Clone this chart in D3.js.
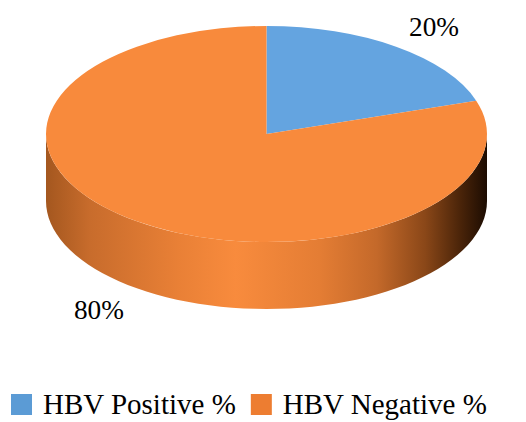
<!DOCTYPE html>
<html>
<head>
<meta charset="utf-8">
<script src="https://cdn.jsdelivr.net/npm/d3@7"></script>
<style>
  body { margin: 0; background: #fff; }
</style>
</head>
<body>
<script>
var categories = ["HBV Positive %", "HBV Negative %"];
var values = [20, 80];
var labels = ["20%", "80%"];
var topColors = ["#64a4e0", "#f88a3c"];
var legendColors = ["#5b9bd5", "#ed7d31"];

var w = 526,
    h = 422;

var cx = 266.5, cy = 134,
    rx = 220.5, ry = 108,
    depth = 67;

var font = "'Liberation Serif', 'Times New Roman', Times, 'DejaVu Serif', serif";

var svg = d3.select("body").append("svg")
    .attr("width", w)
    .attr("height", h);

var defs = svg.append("defs");
var grad = defs.append("linearGradient")
    .attr("id", "sideGrad")
    .attr("gradientUnits", "userSpaceOnUse")
    .attr("x1", cx - rx).attr("x2", cx + rx)
    .attr("y1", 0).attr("y2", 0);
[[0, "#a4571f"], [0.1, "#c86c2c"], [0.3, "#e98036"], [0.43, "#f88b3d"],
 [0.62, "#e47d34"], [0.75, "#c4692a"], [0.86, "#8a4718"], [0.94, "#4a2409"], [1, "#1c0c02"]]
    .forEach(function(s) {
        grad.append("stop").attr("offset", s[0]).attr("stop-color", s[1]);
    });

var pie = d3.pie().sort(null).value(function(d) { return d; });
var arcs = pie(values);

// point on ellipse, d3 angle convention (0 = 12 o'clock, clockwise)
function pt(a, dy) {
    return [cx + rx * Math.sin(a), cy - ry * Math.cos(a) + (dy || 0)];
}

function sidePath(d) {
    var a0 = Math.max(d.startAngle, Math.PI / 2),
        a1 = Math.min(d.endAngle, 3 * Math.PI / 2);
    if (a1 <= a0) return null;
    var p = d3.path(), n = 60, i, q;
    q = pt(a0); p.moveTo(q[0], q[1]);
    for (i = 1; i <= n; i++) { q = pt(a0 + (a1 - a0) * i / n); p.lineTo(q[0], q[1]); }
    for (i = n; i >= 0; i--) { q = pt(a0 + (a1 - a0) * i / n, depth); p.lineTo(q[0], q[1]); }
    p.closePath();
    return p.toString();
}

svg.selectAll("path.side")
    .data(arcs)
    .enter().append("path")
    .attr("class", "side")
    .attr("d", sidePath)
    .attr("fill", "url(#sideGrad)");

var arc = d3.arc().innerRadius(0).outerRadius(rx);

svg.append("g")
    .attr("transform", "translate(" + cx + "," + cy + ") scale(1," + (ry / rx) + ")")
    .selectAll("path")
    .data(arcs)
    .enter().append("path")
    .attr("d", arc)
    .attr("fill", function(d, i) { return topColors[i]; });

// shrink a text until it is no wider than maxW
function fitText(t, size, maxW) {
    t.attr("font-size", size);
    var len = t.node().getComputedTextLength();
    if (len > maxW) t.attr("font-size", size * maxW / len);
    return t.node().getComputedTextLength();
}

// data labels
var labRx = 285, labRy = 134;
svg.selectAll("text.lab")
    .data(arcs)
    .enter().append("text")
    .attr("class", "lab")
    .attr("text-anchor", "middle")
    .attr("font-family", font)
    .attr("x", function(d) { return cx + labRx * Math.sin((d.startAngle + d.endAngle) / 2); })
    .attr("y", function(d) {
        var m = (d.startAngle + d.endAngle) / 2, c = Math.cos(m);
        return cy - labRy * c + (c < 0 ? depth : 0) + 10;
    })
    .text(function(d, i) { return labels[i]; })
    .each(function() { fitText(d3.select(this), 29, 50); });

// legend
var lg = svg.append("g");
var lx = 11;
var legW = [208, 218];
categories.forEach(function(c, i) {
    lg.append("rect")
        .attr("x", lx).attr("y", 394)
        .attr("width", 21).attr("height", 21)
        .attr("fill", legendColors[i]);
    var t = lg.append("text")
        .attr("x", lx + 32).attr("y", 414)
        .attr("font-family", font)
        .text(c);
    lx += 32 + fitText(t, 29, legW[i]) + 15;
});
</script>
</body>
</html>
